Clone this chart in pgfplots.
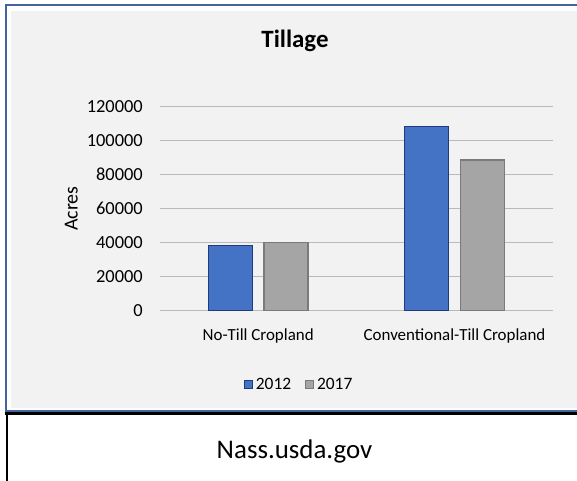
\documentclass[border=0pt]{standalone}
\usepackage{pgfplots}
\pgfplotsset{compat=1.18}
\usepackage{fontspec}
\setmainfont{Carlito}
\definecolor{chartbg}{HTML}{F2F2F2}
\definecolor{frameblue}{HTML}{44649F}
\definecolor{barblue}{HTML}{4472C4}
\definecolor{barblueedge}{HTML}{1F3A7E}
\definecolor{bargray}{HTML}{A5A5A5}
\definecolor{bargrayedge}{HTML}{7A7A7A}
\definecolor{gridgray}{HTML}{BABABA}
\begin{document}
\begin{tikzpicture}[x=1bp,y=1bp]
\useasboundingbox (0,0) rectangle (577,481);
\fill[white] (0,0) rectangle (590,481);
\fill[chartbg] (11,73) rectangle (590,470);
\draw[frameblue, line width=2.3bp] (590,476) -- (6.2,476) -- (6.2,70) -- (590,70);
\draw[black, line width=2.7bp] (5,67.3) -- (590,67.3);
\draw[black, line width=2bp] (7,0) -- (7,67.3);
\node[anchor=base, font=\fontsize{25}{30}\selectfont\bfseries, inner sep=0pt] at (295,433.7) {Tillage};
\node[anchor=base, font=\fontsize{27}{32}\selectfont, inner sep=0pt] at (294.5,22) {Nass.usda.gov};
\begin{axis}[
  at={(160bp,170.3bp)}, anchor=south west,
  width=392.7bp, height=204bp, scale only axis,
  xmin=-0.5, xmax=1.5, ymin=0, ymax=120000,
  ytick={0,20000,40000,60000,80000,100000,120000},
  xtick={0,1},
  xticklabels={No-Till Cropland, Conventional-Till Cropland},
  ymajorgrids, grid style={gridgray, line width=1.4bp},
  axis line style={draw=none}, major tick length=0pt,
  scaled y ticks=false,
  yticklabel style={/pgf/number format/fixed, /pgf/number format/precision=0, /pgf/number format/1000 sep={}, /pgf/number format/assume math mode=true},
  yticklabel style={font=\fontsize{18.5}{22}\selectfont, anchor=east, inner sep=0pt, xshift=-17bp},
  xticklabel style={font=\fontsize{17}{20}\selectfont, anchor=base, inner sep=0pt, yshift=-29.5bp},
  every axis y label/.style={at={(axis description cs:-0.2259,0.5)}, rotate=90, anchor=center, font=\fontsize{20}{24}\selectfont},
  ylabel={Acres},
  ybar=11.7bp, bar width=44bp,
  legend columns=2,
  legend style={at={(axis description cs:0.3545,-0.3618)}, anchor=center, draw=none, fill=none,
    font=\fontsize{17.5}{20}\selectfont,
    /tikz/every even column/.append style={column sep=12bp}},
  legend image code/.code={\draw[#1, line width=0.8bp] (0bp,-4bp) rectangle (7.5bp,4bp);},
]
\addplot[fill=barblue, draw=barblueedge, line width=1.2bp] coordinates {(0,38200) (1,108400)};
\addplot[fill=bargray, draw=bargrayedge, line width=1.2bp] coordinates {(0,40200) (1,88650)};
\legend{\hspace{1.5bp}2012,\hspace{1.5bp}2017}
\end{axis}
\end{tikzpicture}
\end{document}
